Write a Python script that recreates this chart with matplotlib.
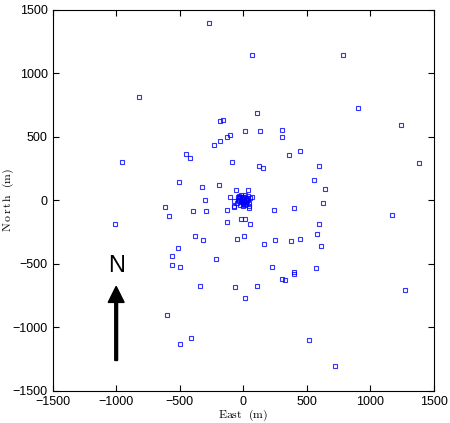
import numpy as np
import matplotlib
matplotlib.use("Agg")
import matplotlib.pyplot as plt

plt.rcParams['font.family'] = ['Liberation Sans', 'DejaVu Sans']
plt.rcParams['mathtext.fontset'] = 'cm'

# antenna positions (m)
east_outer = [-267, -820, -183, -160, -105, -126, -181, -233, -89, -956,
              -450, -421, -505, -325, -193, -60, -301, -107, 68, 784,
              907, 105, 1245, 11, 131, 302, 307, 448, 359, 600,
              1384, 121, 152, 558, 642, 37, -34, 68, -613, -582,
              -1009, -395, -293, -126, -128, -76, -380, -314, -513, -561,
              -558, -495, -212, -47, -340, -68, -602, -409, -500, 42,
              241, 396, 627, 1169, -18, 13, 50, 593, 577, 613,
              8, 165, 247, 373, 443, 226, 307, 330, 396, 396,
              572, 1274, 110, 11, 514, 726, -73, -75, 47]
north_outer = [1394, 813, 627, 632, 517, 499, 467, 438, 305, 305,
               368, 336, 148, 106, 124, 85, 5, 25, 1145, 1145,
               727, 685, 593, 546, 548, 554, 501, 389, 355, 273,
               295, 271, 255, 161, 93, 85, 38, 28, -53, -124,
               -185, -80, -82, -77, -171, -43, -284, -310, -371, -436,
               -512, -525, -465, -305, -677, -685, -905, -1083, -1133, -43,
               -72, -61, -20, -114, -143, -143, -187, -190, -266, -357,
               -284, -344, -310, -316, -302, -525, -622, -630, -564, -583,
               -530, -703, -672, -771, -1096, -1306, -9, -49, -61]

# dense core
east_core = [0, 10, -10, 20, -20, 5, -5, 30, -30, 25, -25, 15, -15, 40, -40,
             0, 35, -35, 45, -45, 20, -12, 8, -28, 28, -8, 12, 50, -50, 0]
north_core = [-4, 5, 8, -10, -15, 25, -30, 20, 20, -30, -35, 40, 45, 0, 0,
              -45, 35, -5, -20, 25, 10, -8, -20, 30, -5, 15, -38, 15, -20, 30]

east = east_outer + east_core
north = north_outer + north_core

fig = plt.figure(figsize=(4.5, 4.23), dpi=100)
ax = fig.add_axes([0.117, 0.0757, 0.847, 0.9013])

ax.plot(east, north, 's', markersize=3, markerfacecolor='none',
        markeredgecolor='blue', markeredgewidth=0.8, alpha=0.8)

# north arrow
ax.arrow(-1000, -1260, 0, 583, width=22, head_width=125, head_length=126,
         length_includes_head=True, color='black')
ax.text(-1000, -520, 'N', ha='center', va='center', fontsize=17)

ax.set_xlim(-1500, 1500)
ax.set_ylim(-1500, 1500)
ax.set_xticks(np.arange(-1500, 1501, 500))
ax.set_yticks(np.arange(-1500, 1501, 500))
ax.tick_params(direction='in', top=True, right=True, length=4, labelsize=9)
ax.set_xlabel(r'$\mathrm{East\ \ (m)}$', fontsize=8.5)
ax.set_ylabel(r'$\mathrm{N\,o\,r\,t\,h\ \ (m)}$', fontsize=8.5)
ax.xaxis.set_label_coords(0.5, -0.044)
ax.yaxis.set_label_coords(-0.096, 0.5)

fig.savefig('out.png', dpi=100)
